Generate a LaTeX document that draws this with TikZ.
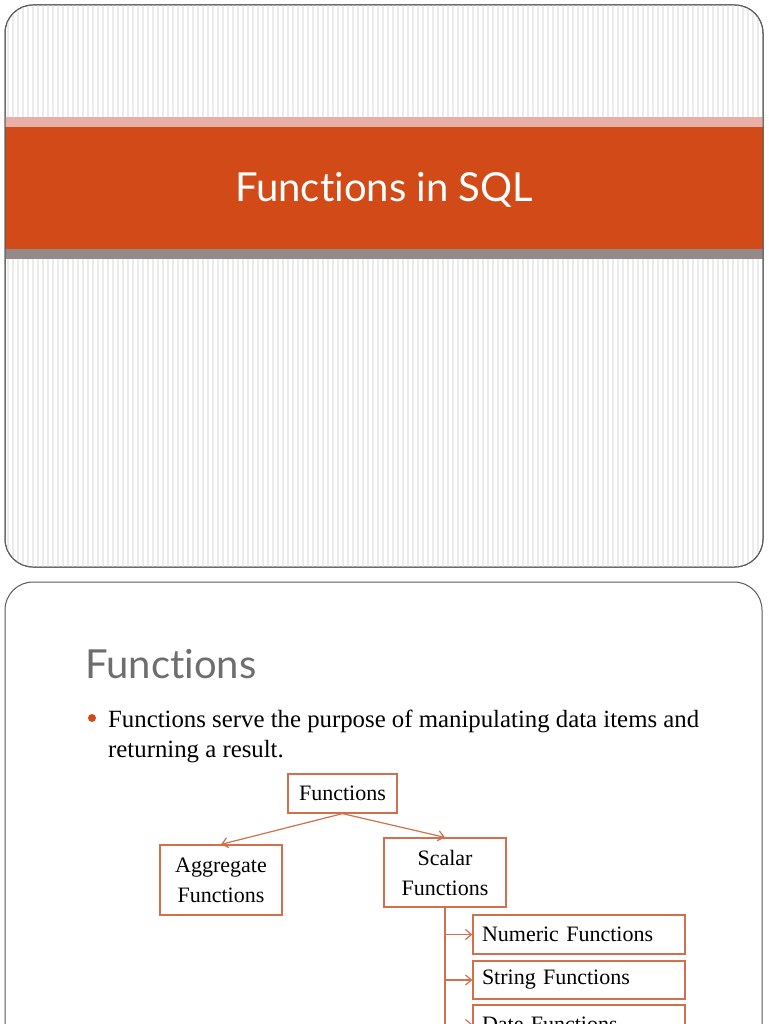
\documentclass[tikz,border=0pt]{standalone}
\usepackage{fontspec}
\setmainfont{Liberation Serif}
\newfontfamily\slidesans[Ligatures={NoCommon,NoRequired}]{Lato}
\usepackage{xcolor}
\usetikzlibrary{arrows.meta}
\definecolor{slideedge}{HTML}{5A5A5A}
\definecolor{bandpink}{HTML}{E8AFA6}
\definecolor{bandorange}{HTML}{D24A18}
\definecolor{bandgray}{HTML}{958A8A}
\definecolor{boxedge}{HTML}{D0704C}
\definecolor{headgray}{HTML}{6E6E6E}

\begin{document}
\begin{tikzpicture}[x=1pt, y=-1pt, >={Straight Barb[length=6pt,width=10pt]},
% common options for the slides:
slide/.style = {draw=slideedge, line width=1pt, rounded corners=28pt},
% common options for the stripes:
stripe/.style = {draw=black!8, line width=1.1pt},
% common options for blocks:
block/.style = {draw=boxedge, line width=1.2pt, align=center, inner sep=0,
            font=\fontsize{22}{30}\selectfont},
% common options for the list boxes:
sbox/.style = {block, align=left, text width=194pt, inner xsep=9pt,
            minimum width=212pt, minimum height=39pt},
link/.style = {draw=boxedge, line width=1.2pt}]
\useasboundingbox (0,0) rectangle (768,1024);
\clip (0,0) rectangle (768,1024);
% title slide
\path[slide, fill=white] (5,5) rectangle (763,567);
\begin{scope}
\clip[rounded corners=28pt] (5,5) rectangle (763,567);
\foreach \x in {8,13,...,760} \draw[stripe] (\x,5) -- (\x,567);
\fill[bandpink] (5,117) rectangle (763,127);
\fill[bandorange] (5,127) rectangle (763,249);
\fill[bandgray] (5,249) rectangle (763,259);
\end{scope}
\draw[slide] (5,5) rectangle (763,567);
\node[anchor=base, text=white, font=\slidesans\fontsize{40}{42}\selectfont] (T0) at (384,202) {Functions in SQL};
% second slide
\draw[slide, fill=white] (5,582) rectangle (762,1080);
\node[anchor=base west, inner sep=0, text=headgray, font=\slidesans\fontsize{40}{42}\selectfont] (H0) at (85,678) {Functions};
\fill[bandorange] (92,718) circle (4pt);
\node[anchor=base west, inner sep=0, align=left, font=\fontsize{24.8}{30}\selectfont] (P0) at (108,757) {Functions serve the purpose of manipulating data items and\\returning a result.};
\node[block, minimum width=109pt, minimum height=39pt] (F0) at (342.5,793.5) {Functions};
\node[block, minimum width=122pt, minimum height=70pt] (F1) at (221,880) {Aggregate\\Functions};
\node[block, minimum width=122pt, minimum height=69pt] (F2) at (445,872.5) {Scalar\\Functions};
\node[sbox] (S1) at (579,934.5) {Numeric Functions};
\node[sbox, minimum height=38pt] (S2) at (579,980) {String Functions};
\node[sbox] (S3) at (579,1024.5) {Date Functions};
\draw[link, ->] (F0.south) to (F1.north);
\draw[link, ->] (F0.south) to (F2.north);
\coordinate (V1) at (F2.south |- S1.west);
\coordinate (V2) at (F2.south |- S2.west);
\coordinate (V3) at (F2.south |- S3.west);
\draw[link] (F2.south) to (V3);
\draw[link, ->] (V1) to (S1.west);
\draw[link, ->] (V2) to (S2.west);
\draw[link, ->] (V3) to (S3.west);
\end{tikzpicture}
\end{document}
